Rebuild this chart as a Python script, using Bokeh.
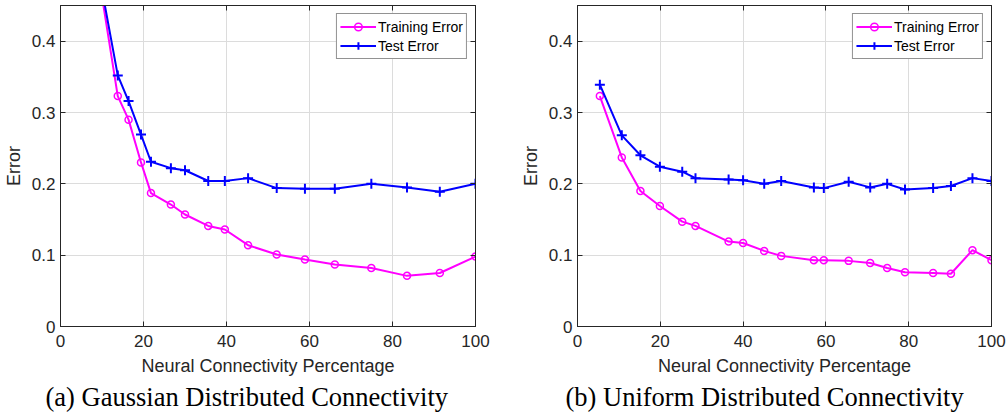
from bokeh.plotting import figure
from bokeh.layouts import row
from bokeh.models import (Range1d, LinearAxis, SingleIntervalTicker, Legend,
                          LegendItem, Title, CustomJSTickFormatter)
from bokeh.embed import file_html
from bokeh.resources import INLINE

# ---- data ----
gauss_x = [8.0, 13.8, 16.4, 19.4, 21.8, 26.6, 30.0, 35.6, 39.6, 45.2, 52.1,
           58.9, 66.1, 74.9, 83.5, 91.4, 100.0]
gauss_train = [0.536, 0.323, 0.290, 0.230, 0.187, 0.171, 0.157, 0.141, 0.136,
               0.114, 0.101, 0.094, 0.087, 0.082, 0.071, 0.075, 0.098]
gauss_test = [0.535, 0.352, 0.316, 0.269, 0.231, 0.222, 0.219, 0.204, 0.204,
              0.208, 0.194, 0.193, 0.193, 0.200, 0.195, 0.189, 0.200]

uniform_x = [5.4, 10.7, 15.2, 19.9, 25.3, 28.5, 36.5, 40.0, 45.1, 49.2, 57.1,
             59.5, 65.5, 70.7, 74.8, 79.1, 85.9, 90.2, 95.4, 100.0]
uniform_train = [0.323, 0.237, 0.190, 0.169, 0.147, 0.141, 0.119, 0.117, 0.106,
                 0.099, 0.093, 0.093, 0.092, 0.089, 0.082, 0.076, 0.075, 0.074,
                 0.107, 0.093]
uniform_test = [0.339, 0.268, 0.240, 0.224, 0.217, 0.208, 0.206, 0.205, 0.200,
                0.204, 0.195, 0.194, 0.203, 0.195, 0.200, 0.192, 0.194, 0.197,
                0.208, 0.204]

series_names = ["Training Error", "Test Error"]
x_label = "Neural Connectivity Percentage"
y_label = "Error"
captions = ["(a) Gaussian Distributed Connectivity",
            "(b) Uniform Distributed Connectivity"]

AX = "#262626"
SANS = "Liberation Sans"


def style_axis(ax):
    ax.major_tick_in = 5
    ax.major_tick_out = 0
    ax.minor_tick_in = 0
    ax.minor_tick_out = 0
    ax.axis_line_color = AX
    ax.major_tick_line_color = AX
    ax.major_label_text_color = AX
    ax.major_label_text_font = SANS
    ax.major_label_text_font_size = "17px"
    ax.axis_label_text_color = AX
    ax.axis_label_text_font = SANS
    ax.axis_label_text_font_size = "18px"
    ax.axis_label_text_font_style = "normal"


def make_fig(xs, train, test, caption, cap_shift, width, mbl, mbr):
    p = figure(width=width, height=415, output_backend="svg",
               toolbar_location=None,
               x_range=Range1d(0, 100), y_range=Range1d(0, 0.45),
               min_border_left=mbl, min_border_right=mbr,
               min_border_top=5, min_border_bottom=89)
    p.outline_line_color = AX
    p.outline_line_width = 1
    p.background_fill_color = "white"
    p.border_fill_color = "white"

    p.xaxis.ticker = SingleIntervalTicker(interval=20, num_minor_ticks=0)
    p.yaxis.ticker = SingleIntervalTicker(interval=0.1, num_minor_ticks=0)
    p.xaxis.axis_label = x_label
    p.yaxis.axis_label = y_label
    style_axis(p.xaxis[0])
    style_axis(p.yaxis[0])
    p.xaxis.major_label_standoff = 8
    p.xaxis.axis_label_standoff = 6
    p.yaxis.major_label_standoff = 5
    p.yaxis.axis_label_standoff = 5

    blank = CustomJSTickFormatter(code="return ''")
    top = LinearAxis(ticker=SingleIntervalTicker(interval=20, num_minor_ticks=0),
                     formatter=blank)
    style_axis(top)
    top.major_label_standoff = 0
    right = LinearAxis(ticker=SingleIntervalTicker(interval=0.1, num_minor_ticks=0),
                       formatter=blank)
    style_axis(right)
    right.major_label_standoff = 0
    p.add_layout(top, "above")
    p.add_layout(right, "right")

    for g in (p.xgrid[0], p.ygrid[0]):
        g.grid_line_color = "#dcdcdc"
        g.grid_line_width = 1
    p.xgrid.ticker = SingleIntervalTicker(interval=20, num_minor_ticks=0)
    p.ygrid.ticker = SingleIntervalTicker(interval=0.1, num_minor_ticks=0)

    l1 = p.line(xs, train, line_color="#FF00FF", line_width=2)
    s1 = p.scatter(xs, train, marker="circle", size=7, fill_color=None,
                   line_color="#FF00FF", line_width=1.5)
    l2 = p.line(xs, test, line_color="#0000FF", line_width=2)
    s2 = p.scatter(xs, test, marker="cross", size=10, line_color="#0000FF",
                   line_width=2)

    leg = Legend(items=[LegendItem(label=series_names[0], renderers=[l1, s1]),
                        LegendItem(label=series_names[1], renderers=[l2, s2])],
                 location="top_right")
    leg.margin = 8
    leg.padding = 3
    leg.spacing = 0
    leg.glyph_width = 36
    leg.glyph_height = 19
    leg.label_height = 19
    leg.label_standoff = 2
    leg.label_text_font = SANS
    leg.label_text_font_size = "14px"
    leg.label_text_color = "black"
    leg.border_line_color = AX
    leg.border_line_width = 1
    leg.background_fill_color = "white"
    leg.background_fill_alpha = 1
    p.add_layout(leg)

    t = Title(text=caption, align="left", text_font="Liberation Serif",
              text_font_size="26.5px", text_font_style="normal",
              text_color="black", standoff=3, offset=cap_shift)
    p.add_layout(t, "below")
    return p


p1 = make_fig(gauss_x, gauss_train, gauss_test, captions[0], -15, 517, 58, 42)
p2 = make_fig(uniform_x, uniform_train, uniform_test, captions[1], -12, 489, 58, 15)

layout = row(p1, p2, spacing=0)
open("out.html", "w").write(file_html(layout, INLINE))
